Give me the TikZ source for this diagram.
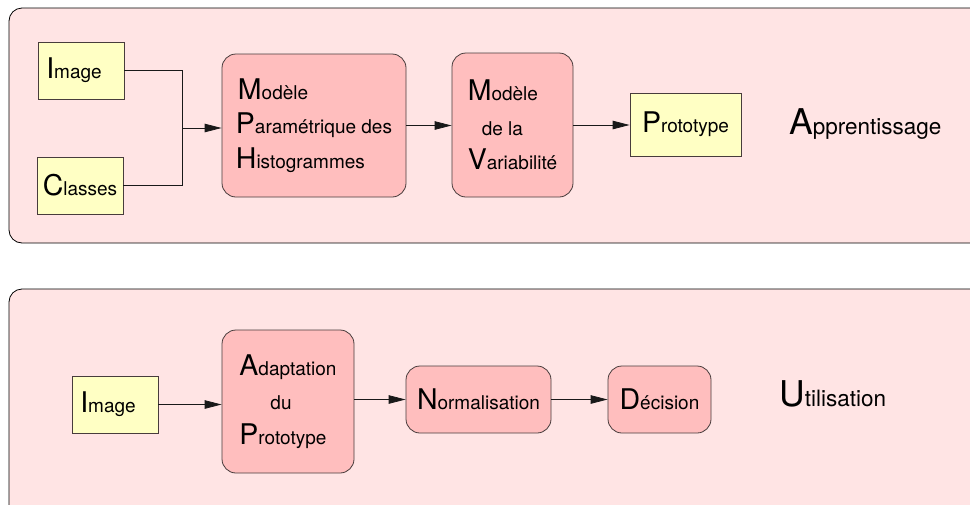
\documentclass[tikz,border=0pt]{standalone}
\usepackage{fontspec}
\setmainfont{TeX Gyre Heros}
\usetikzlibrary{arrows.meta}

\definecolor{panelfill}{RGB}{255,228,228}
\definecolor{stagefill}{RGB}{255,190,190}
\definecolor{datafill}{RGB}{255,255,196}
\definecolor{boxline}{RGB}{72,60,60}

% enlarged initial letter of a label
\newcommand\ini[1]{{\fontsize{28.5}{28.5}\selectfont #1}}
\newcommand\bigini[1]{{\fontsize{35.5}{35.5}\selectfont #1}}

\begin{document}
\begin{tikzpicture}[x=1pt,y=-1pt,
  panel/.style={draw=black, fill=panelfill, line width=0.8pt, rounded corners=13pt},
  databox/.style={draw=boxline, fill=datafill, line width=0.8pt, inner sep=0pt,
    font=\fontsize{19}{34.5}\selectfont},
  stagebox/.style={draw=boxline, fill=stagefill, line width=0.8pt, rounded corners=14pt,
    inner sep=0pt, align=left, font=\fontsize{19}{34.5}\selectfont},
  flow/.style={draw=black!90, line width=0.8pt},
  arr/.style={flow, -{Triangle[length=17pt,width=8.5pt]}},
  title/.style={inner sep=0pt, anchor=base west, font=\fontsize{22.5}{22.5}\selectfont}]

\useasboundingbox (0,0) rectangle (970,504);
\clip (0,0) rectangle (970,504);

% the two phases
\path[panel] (9,8) rectangle (995,243);
\path[panel] (9,289) rectangle (995,530);

% learning phase
\node[databox, minimum width=86pt, minimum height=57pt] (img1) at (81,70.5) {\ini{I}mage\hspace*{14pt}};
\node[databox, minimum width=86pt, minimum height=57pt] (cls) at (80,185.5) {\ini{C}lasses};
\node[stagebox, minimum width=184pt, minimum height=143pt] (mph) at (314,125.5)
  {\hspace*{2pt}\ini{M}odèle\\\ini{P}aramétrique des\\\ini{H}istogrammes};
\node[stagebox, minimum width=121pt, minimum height=144pt] (mv) at (512.5,125)
  {\ini{M}odèle\\\hspace*{14pt}de la\\\ini{V}ariabilité};
\node[databox, minimum width=111pt, minimum height=63pt] (proto) at (685.5,124.5) {\ini{P}rototype};
\node[title] (learn) at (789,134) {\bigini{A}pprentissage};

\coordinate (join) at (182,128);
\draw[flow] (img1.east) -| (join);
\draw[flow] (cls.east) -| (join);
\draw[arr] (join) -- (join -| mph.west);
\draw[arr] (mph.east) -- (mph.east -| mv.west);
\draw[arr] (mv.east) -- (mv.east -| proto.west);

% usage phase
\node[databox, minimum width=86pt, minimum height=57pt] (img2) at (115,404.5) {\ini{I}mage\hspace*{14pt}};
\node[stagebox, minimum width=132pt, minimum height=143pt] (adapt) at (288,401.5)
  {\ini{A}daptation\\\hspace*{31pt}du\\\ini{P}rototype};
\node[stagebox, minimum width=145pt, minimum height=67pt] (norm) at (478.5,399.5) {\ini{N}ormalisation};
\node[stagebox, minimum width=103pt, minimum height=67pt] (dec) at (659.5,399.5) {\ini{D}écision};
\node[title] (use) at (779,406) {\bigini{U}tilisation};

\draw[arr] (img2.east) -- (img2.east -| adapt.west);
\draw[arr] (norm.west -| adapt.east) -- (norm.west);
\draw[arr] (norm.east) -- (dec.west);
\end{tikzpicture}
\end{document}
